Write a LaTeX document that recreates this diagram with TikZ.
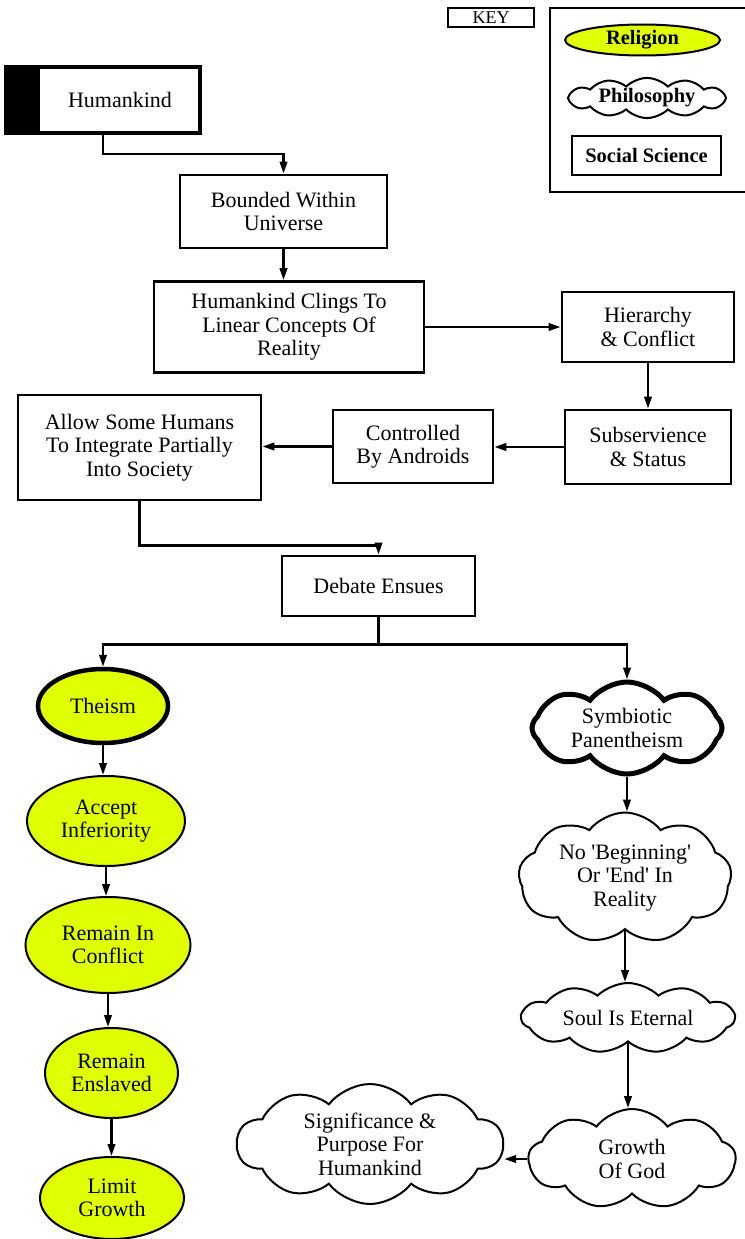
\documentclass[tikz,border=0pt]{standalone}
\usepackage{fontspec}
\setmainfont{Liberation Serif}
\usetikzlibrary{shapes.geometric,shapes.symbols,arrows.meta}
\definecolor{yel}{RGB}{224,255,0}
\newcommand\mfont{\fontsize{22}{23.5}\selectfont}
\newcommand\kfont{\fontsize{20.5}{22}\selectfont\bfseries}
\begin{document}
\begin{tikzpicture}[x=1pt,y=-1pt,
  box/.style={draw, line width=2.8pt, fill=white, align=center, inner sep=0pt, font=\mfont},
  rel/.style={ellipse, draw, line width=2pt, fill=yel, align=center, inner sep=0pt, font=\mfont},
  phil/.style={cloud, cloud puffs=9, cloud puff arc=105, cloud ignores aspect, draw, line width=2pt, fill=white, align=center, inner sep=0pt, font=\mfont},
  arr/.style={line width=2.4pt, -{Triangle[length=12pt,width=7.5pt]}},
  conn/.style={line width=2.4pt}]
\useasboundingbox (0,0) rectangle (744,1239);

% key
\node[draw, line width=1.5pt, minimum width=86pt, minimum height=19pt, inner sep=0pt, font=\fontsize{18}{18}\selectfont] (key) at (491,17.5) {KEY};
\draw[line width=1.5pt] (750,8) -- (550,8) -- (550,192) -- (750,192);
\node[rel, minimum width=155pt, minimum height=31pt, font=\kfont] (kr) at (642.5,40) {Religion};
\node[phil, minimum width=158pt, minimum height=40pt, font=\kfont, cloud puffs=12, cloud puff arc=90] (kp) at (647,98) {Philosophy};
\node[box, line width=2pt, minimum width=149pt, minimum height=39pt, font=\kfont] (ks) at (646.5,155.5) {Social Science};

% boxes
\node[box, line width=4pt, minimum width=194pt, minimum height=66pt,
  path picture={\fill[black] (path picture bounding box.south west) rectangle ([xshift=34pt]path picture bounding box.north west);}] (hk) at (103,100) {\hspace*{34pt}Humankind};
\node[box, minimum width=207pt, minimum height=73pt] (bw) at (283.5,211.5) {Bounded Within\\Universe};
\node[box, minimum width=270pt, minimum height=91pt] (cl) at (289,327) {Humankind Clings To\\Linear Concepts Of\\Reality};
\node[box, minimum width=172pt, minimum height=70pt] (hc) at (648,327) {Hierarchy\\\& Conflict};
\node[box, minimum width=166pt, minimum height=74pt] (ss) at (648,447) {Subservience\\\& Status};
\node[box, minimum width=160pt, minimum height=73pt] (ca) at (413,446.5) {Controlled\\By Androids};
\node[box, minimum width=243pt, minimum height=105pt] (al) at (139.5,447.5) {Allow Some Humans\\To Integrate Partially\\Into Society};
\node[box, minimum width=193pt, minimum height=60pt] (de) at (378.5,586) {Debate Ensues};

% religion column
\node[rel, line width=4.5pt, minimum width=130pt, minimum height=74pt] (th) at (103,706) {Theism};
\node[rel, minimum width=158pt, minimum height=90pt] (ai) at (106,821) {Accept\\Inferiority};
\node[rel, minimum width=165pt, minimum height=96pt] (rc) at (108,945) {Remain In\\Conflict};
\node[rel, minimum width=133pt, minimum height=90pt] (re) at (111.5,1073) {Remain\\Enslaved};
\node[rel, minimum width=144pt, minimum height=82pt] (lg) at (112,1198) {Limit\\Growth};

% philosophy column
\node[phil, line width=5pt, cloud puffs=8, minimum width=190pt, minimum height=92pt] (sp) at (627,728) {Symbiotic\\Panentheism};
\node[phil, minimum width=213pt, minimum height=131pt] (nb) at (625,878) {No \textquotesingle Beginning\textquotesingle\\Or \textquotesingle End\textquotesingle{} In\\Reality};
\node[phil, cloud puffs=11, cloud puff arc=90, minimum width=213pt, minimum height=70pt] (se) at (628,1018) {Soul Is Eternal};
\node[phil, minimum width=207pt, minimum height=100pt] (gg) at (632,1159) {Growth\\Of God};
\node[phil, cloud puffs=10, minimum width=266pt, minimum height=120pt] (sig) at (370,1144) {Significance \&\\Purpose For\\Humankind};

% connectors
\draw[arr] (hk.south) -- ++(0,19) -| (bw.north);
\draw[arr] (bw.south) -- (cl.north -| bw.south);
\draw[arr] (cl.east) -- (cl.east -| hc.west);
\draw[arr] (hc.south) -- (ss.north);
\draw[arr] (ss.west) -- (ss.west -| ca.east);
\draw[arr] (ca.west) -- (ca.west -| al.east);
\draw[arr] (al.south) -- ++(0,44) -| (de.north);
\draw[conn] (de.south) -- ++(0,27) coordinate (split);
\draw[arr] (split) -| (th.north);
\draw[arr] (split) -| (sp.north);
\draw[arr] (th.south) -- (ai.north -| th.south);
\draw[arr] (ai.south) -- (rc.north -| ai.south);
\draw[arr] (rc.south) -- (re.north -| rc.south);
\draw[arr] (re.south) -- (lg.north -| re.south);
\draw[arr] (sp.south) -- (nb.north -| sp.south);
\draw[arr] (nb.south) -- (se.north -| nb.south);
\draw[arr] (se.south) -- (gg.north -| se.south);
\draw[arr] (gg.west) -- (sig.east |- gg.west);
\end{tikzpicture}
\end{document}
